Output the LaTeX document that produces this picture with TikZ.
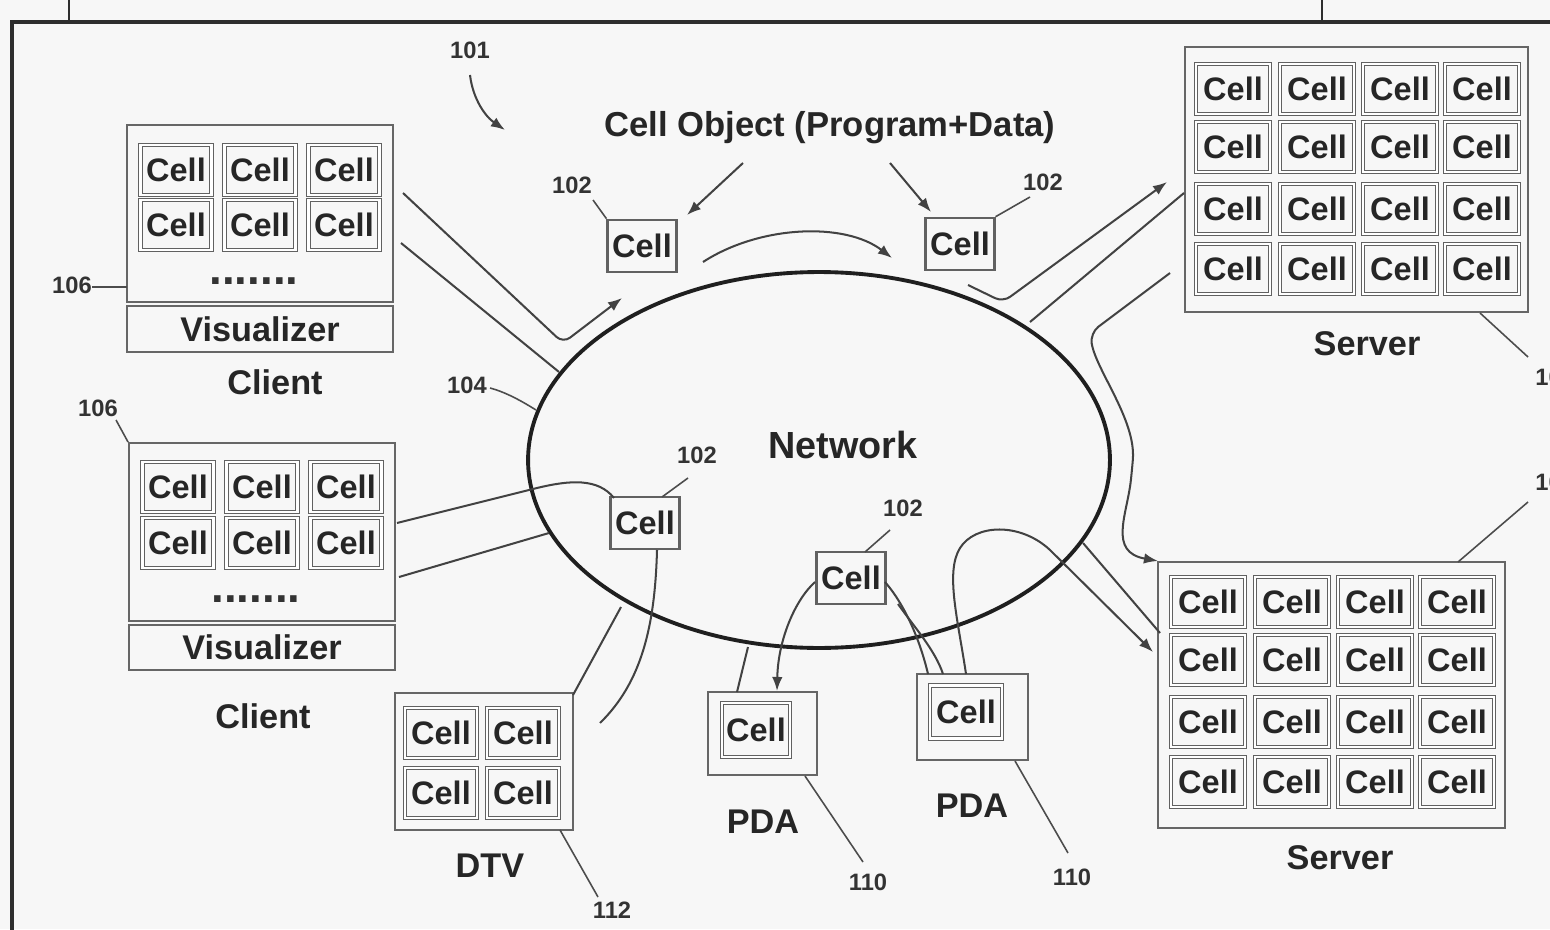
\documentclass[tikz,border=0pt]{standalone}
\usepackage{fontspec}
\setmainfont{Liberation Sans}
\usetikzlibrary{shapes.geometric,arrows.meta}
\begin{document}
\begin{tikzpicture}[x=0.02cm,y=-0.02cm,
  wire/.style={draw=black!74, line width=1.15pt},
  lead/.style={draw=black!70, line width=0.9pt},
  arr/.style={-{Latex[length=8pt,width=6pt]}},
  gcell/.style={draw=black!62, line width=0.6pt, double=white, double distance=1.4pt,
    minimum width=1.44cm, minimum height=1.0cm, inner sep=0pt,
    font=\fontsize{18.5}{20}\selectfont\bfseries, text=black!85},
  scell/.style={draw=black!62, line width=1.2pt, minimum width=1.38cm, minimum height=1.05cm,
    inner sep=0pt, font=\fontsize{18.5}{20}\selectfont\bfseries, text=black!85},
  cont/.style={draw=black!60, line width=1.1pt, inner sep=0pt},
  lbl/.style={font=\fontsize{19.5}{22}\selectfont\bfseries, text=black!85, inner sep=0pt},
  num/.style={font=\fontsize{13.5}{15}\selectfont\bfseries, text=black!80, inner sep=0pt},
]
\useasboundingbox (0,0) rectangle (1550,929);
\clip (0,0) rectangle (1550,929);
\fill[black!3] (0,0) rectangle (1550,929);

% frame
\draw[black!82, line width=1.8pt] (12,935) -- (12,22) -- (1560,22);
\draw[black!82, line width=1.2pt] (69,0) -- (69,22);
\draw[black!82, line width=1.2pt] (1322,0) -- (1322,22);

% network
\node[ellipse, draw=black!88, line width=2.2pt, minimum width=11.64cm, minimum height=7.52cm, inner sep=0pt] (net) at (819,460) {};
\node[lbl, font=\fontsize{21.5}{24}\selectfont\bfseries] (nettxt) at (843,445) {Network};

% client 1
\node[cont, minimum width=5.32cm, minimum height=3.54cm] (cl1) at (260,213.5) {};
\node[cont, minimum width=5.32cm, minimum height=0.92cm, lbl] (cl1v) at (260,329) {Visualizer};
\foreach \x [count=\i] in {176,260,344}
  \foreach \y [count=\j] in {170,225}
    \node[gcell, minimum width=1.42cm] (cla-\i-\j) at (\x,\y) {Cell};
\node[font=\fontsize{26}{26}\selectfont\bfseries, text=black!80, inner sep=0pt] (cl1dots) at (254,281) {.......};
\node[lbl] (cl1lbl) at (275,382) {Client};

% client 2
\node[cont, minimum width=5.32cm, minimum height=3.56cm] (cl2) at (262,532) {};
\node[cont, minimum width=5.32cm, minimum height=0.9cm, lbl] (cl2v) at (262,647.5) {Visualizer};
\foreach \x [count=\i] in {178,262,346}
  \foreach \y [count=\j] in {487,543}
    \node[gcell, minimum width=1.42cm] (clb-\i-\j) at (\x,\y) {Cell};
\node[font=\fontsize{26}{26}\selectfont\bfseries, text=black!80, inner sep=0pt] (cl2dots) at (256,599) {.......};
\node[lbl] (cl2lbl) at (263,716) {Client};

% server 1
\node[cont, minimum width=6.86cm, minimum height=5.3cm] (sv1) at (1356.5,179.5) {};
\foreach \x [count=\i] in {1233,1317,1400,1482}
  \foreach \y [count=\j] in {89,147,209,269}
    \node[gcell, minimum width=1.48cm] (sa-\i-\j) at (\x,\y) {Cell};
\node[lbl] (sv1lbl) at (1367,344) {Server};

% server 2
\node[cont, minimum width=6.94cm, minimum height=5.32cm] (sv2) at (1331.5,695) {};
\foreach \x [count=\i] in {1208,1292,1375,1457}
  \foreach \y [count=\j] in {602,660,722,782}
    \node[gcell, minimum width=1.48cm] (sb-\i-\j) at (\x,\y) {Cell};
\node[lbl] (sv2lbl) at (1340,858) {Server};

% DTV
\node[cont, minimum width=3.56cm, minimum height=2.74cm] (dtv) at (484,761.5) {};
\foreach \x [count=\i] in {441,523}
  \foreach \y [count=\j] in {733,793}
    \node[gcell] (dc-\i-\j) at (\x,\y) {Cell};
\node[lbl] (dtvlbl) at (490,866) {DTV};

% PDAs
\node[cont, minimum width=2.18cm, minimum height=1.66cm] (pda1) at (762.5,733.5) {};
\node[gcell, minimum width=1.36cm, minimum height=1.08cm] (pda1c) at (756,730) {Cell};
\node[lbl] (pda1lbl) at (763,822) {PDA};
\node[cont, minimum width=2.22cm, minimum height=1.72cm] (pda2) at (972.5,717) {};
\node[gcell, minimum width=1.44cm, minimum height=1.06cm] (pda2c) at (966,712) {Cell};
\node[lbl] (pda2lbl) at (972,806) {PDA};

% single cell objects
\node[scell] (cA) at (642,246) {Cell};
\node[scell] (cB) at (960,244) {Cell};
\node[scell] (cC) at (645,523) {Cell};
\node[scell] (cD) at (851,578) {Cell};

% title text
\node[lbl, font=\fontsize{19.7}{22}\selectfont\bfseries] (obj) at (830,128) {Cell Object (Program+Data)};

% number labels
\node[num] (n101) at (470,50) {101};
\node[num] (n102a) at (572,185) {102};
\node[num] (n102b) at (1043,182) {102};
\node[num] (n102c) at (697,455) {102};
\node[num] (n102d) at (903,508) {102};
\node[num] (n104) at (467,385) {104};
\node[num] (n106a) at (72,285) {106};
\node[num] (n106b) at (98,408) {106};
\node[num, anchor=west] (n108a) at (1535,377) {108};
\node[num, anchor=west] (n108b) at (1535,482) {108};
\node[num] (n110a) at (868,882) {110};
\node[num] (n110b) at (1072,877) {110};
\node[num] (n112) at (612,910) {112};

% coordinates for connector ends
\coordinate (k1a) at (403,193); \coordinate (k1b) at (563,343); \coordinate (k1c) at (622,298);
\coordinate (k2a) at (401,243); \coordinate (k2b) at (559,372);
\coordinate (k3a) at (397,523); \coordinate (k3b) at (537,488); \coordinate (k3c) at (614,498);
\coordinate (k4a) at (399,577); \coordinate (k4b) at (549,533);
\coordinate (k5a) at (621,607); \coordinate (k5b) at (573,695);
\coordinate (k6a) at (657,550); \coordinate (k6b) at (600,723);
\coordinate (k7a) at (703,262); \coordinate (k7b) at (892,258);
\coordinate (k8a) at (743,163); \coordinate (k8b) at (687,215);
\coordinate (k9a) at (890,163); \coordinate (k9b) at (931,212);
\coordinate (k10a) at (470,75); \coordinate (k10b) at (505,130);
\coordinate (kAa) at (968,285); \coordinate (kAb) at (1003,302); \coordinate (kAc) at (1167,182);
\coordinate (kBa) at (1030,322); \coordinate (kBb) at (1184,193);
\coordinate (kCa) at (1170,273); \coordinate (kCb) at (1090,333); \coordinate (kCc) at (1132,470); \coordinate (kCd) at (1158,561);
\coordinate (kDa) at (1083,543); \coordinate (kDb) at (1160,633);
\coordinate (kEa) at (966,674); \coordinate (kEb) at (960,548); \coordinate (kEc) at (1050,550); \coordinate (kEd) at (1153,652);
\coordinate (kFa) at (815,582); \coordinate (kFb) at (777,691);
\coordinate (kGa) at (737,692); \coordinate (kGb) at (748,647);
\coordinate (kHa) at (885,582); \coordinate (kHb) at (928,674);
\coordinate (kIa) at (898,604); \coordinate (kIb) at (943,674);

% connectors
\draw[wire,arr,rounded corners=5pt] (k1a) -- (k1b) -- (k1c);
\draw[wire] (k2a) -- (k2b);
\draw[wire] (k3a) -- (k3b) .. controls (570,480) and (598,478) .. (k3c);
\draw[wire] (k4a) -- (k4b);
\draw[wire] (k5a) -- (k5b);
\draw[wire] (k6a) .. controls (655,625) and (642,682) .. (k6b);
\draw[wire,arr] (k7a) .. controls (760,225) and (845,222) .. (k7b);
\draw[wire,arr] (k8a) -- (k8b);
\draw[wire,arr] (k9a) -- (k9b);
\draw[wire,arr] (k10a) .. controls (473,100) and (486,117) .. (k10b);
\draw[wire,arr,rounded corners=5pt] (kAa) -- (kAb) -- (kAc);
\draw[wire] (kBa) -- (kBb);
\draw[wire,arr,rounded corners=6pt] (kCa) -- (kCb) .. controls (1096,370) and (1136,420) .. (kCc) .. controls (1127,515) and (1108,552) .. (kCd);
\draw[wire] (kDa) -- (kDb);
\draw[wire,arr] (kEa) .. controls (958,620) and (945,572) .. (kEb) .. controls (975,524) and (1020,522) .. (kEc) -- (kEd);
\draw[wire,arr] (kFa) .. controls (795,600) and (778,640) .. (kFb);
\draw[wire] (kGa) -- (kGb);
\draw[wire] (kHa) .. controls (905,605) and (920,640) .. (kHb);
\draw[wire] (kIa) .. controls (915,628) and (935,650) .. (kIb);

% leaders
\draw[lead] (593,200) -- (cA.north west);
\draw[lead] (1030,197) -- (cB.north east);
\draw[lead] (688,478) -- (662,497);
\draw[lead] (890,530) -- (865,552);
\draw[lead] (490,388) .. controls (505,392) and (520,400) .. (536,410);
\draw[lead] (92,287) -- (127,287);
\draw[lead] (116,420) -- (cl2.north west);
\draw[lead] (1480,313) -- (1528,357);
\draw[lead] (1458,562) -- (1528,502);
\draw[lead] (805,776) -- (863,862);
\draw[lead] (1015,761) -- (1068,853);
\draw[lead] (560,830) -- (598,897);
\end{tikzpicture}
\end{document}
